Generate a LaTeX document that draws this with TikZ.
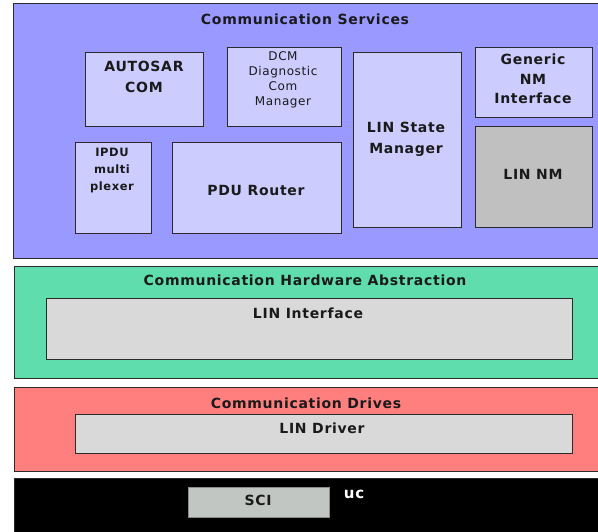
\documentclass[tikz,border=0pt]{standalone}
\usepackage{fontspec}
\setmainfont{DejaVu Sans}[LetterSpace=5]
\definecolor{svcblue}{HTML}{9999FF}
\definecolor{svcbox}{HTML}{CCCCFF}
\definecolor{nmgray}{HTML}{C0C0C0}
\definecolor{hwgreen}{HTML}{60DDAD}
\definecolor{drvred}{HTML}{FF7F7F}
\definecolor{boxgray}{HTML}{D9D9D9}
\definecolor{scigray}{HTML}{C2C6C2}
\definecolor{linegray}{HTML}{2A2A2A}
\definecolor{ink}{HTML}{1A1A1A}
\tikzset{
  layer/.style={draw=linegray, line width=0.8pt, anchor=north west, inner sep=0pt},
  blk/.style={draw=linegray, line width=0.8pt, fill=svcbox, anchor=north west, inner sep=0pt},
  lbl/.style={font=\fontsize{14}{21}\selectfont\bfseries, align=center, text=ink, inner sep=0pt},
  small/.style={font=\fontsize{12}{15}\selectfont, align=center, text=ink, inner sep=0pt},
}
\begin{document}
\begin{tikzpicture}[x=1pt,y=-1pt]
  \useasboundingbox (0,0) rectangle (598,531);
  \clip (0,0) rectangle (598,531);
  % layers
  \node[layer, fill=svcblue, minimum width=600, minimum height=255] (svc) at (13,3) {};
  \node[layer, fill=hwgreen, minimum width=600, minimum height=112] (hw) at (14,266) {};
  \node[layer, fill=drvred, minimum width=600, minimum height=84] (drv) at (14,387) {};
  \node[layer, fill=black, minimum width=600, minimum height=60] (uc) at (14,478) {};
  % communication services
  \node[blk, minimum width=118, minimum height=74] (acom) at (85,52) {};
  \node[blk, minimum width=114, minimum height=79] (dcm) at (227,47) {};
  \node[blk, minimum width=108, minimum height=175] (lsm) at (353,52) {};
  \node[blk, minimum width=117, minimum height=70] (gnm) at (475,47) {};
  \node[blk, fill=nmgray, minimum width=117, minimum height=101] (linnm) at (475,126) {};
  \node[blk, minimum width=76, minimum height=91] (ipdu) at (75,142) {};
  \node[blk, minimum width=169, minimum height=91] (pdur) at (172,142) {};
  \node[lbl] (svctitle) at (305,19) {Communication Services};
  \node[lbl] (acomtxt) at (144,77) {AUTOSAR\\COM};
  \node[small] (dcmtxt) at (283,80) {DCM\\Diagnostic\\Com\\Manager};
  \node[lbl] (lsmtxt) at (406,139) {LIN State\\Manager};
  \node[lbl, font=\fontsize{14}{19.5}\selectfont\bfseries] (gnmtxt) at (533,79) {Generic\\NM\\Interface};
  \node[lbl] (linnmtxt) at (533,174) {LIN NM};
  \node[small, font=\fontsize{11.5}{17}\selectfont\bfseries] (ipdutxt) at (112,170) {IPDU\\multi\\plexer};
  \node[lbl] (pdurtxt) at (256,190) {PDU Router};
  % hardware abstraction
  \node[layer, fill=boxgray, minimum width=526, minimum height=61] (linif) at (46,298) {};
  \node[lbl] (hwtitle) at (305,280) {Communication Hardware Abstraction};
  \node[lbl] (liniftxt) at (308,313) {LIN Interface};
  % drivers
  \node[layer, fill=boxgray, minimum width=497, minimum height=39] (lindrv) at (75,414) {};
  \node[lbl] (drvtitle) at (306,403) {Communication Drives};
  \node[lbl] (lindrvtxt) at (322,428) {LIN Driver};
  % microcontroller
  \node[layer, fill=scigray, draw=scigray!70!black, minimum width=141, minimum height=30] (sci) at (188,487) {};
  \node[lbl] (scitxt) at (258,500) {SCI};
  \node[lbl, font=\fontsize{15}{15}\selectfont\bfseries, text=white] (uctxt) at (354,494) {uc};
\end{tikzpicture}
\end{document}
